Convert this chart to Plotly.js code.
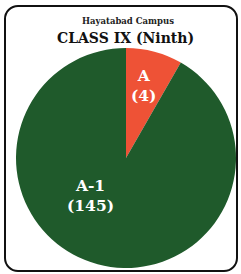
<!DOCTYPE html>
<html>
<head>
<meta charset="utf-8">
<script src="https://cdn.plot.ly/plotly-3.0.1.min.js"></script>
<style>
  html, body { margin: 0; padding: 0; background: #fff; }
  #wrap { position: relative; width: 241px; height: 274px; }
  #chart { position: absolute; left: 0; top: 0; width: 241px; height: 274px; }
  #frame { position: absolute; left: 4px; top: 5px; width: 230px; height: 263px;
           border: 2px solid #111; border-radius: 14px; pointer-events: none; }
</style>
</head>
<body>
<div id="wrap"><div id="chart"></div><div id="frame"></div></div>
<script>
// Data
const campus = "Hayatabad Campus";
const chartTitle = "CLASS IX (Ninth)";
const grades = ["A", "A-1"];
const counts = [4, 145];
// slice share of the circle as drawn in the reference (percent)
const sliceShare = [8.3, 91.7];
const colors = ["#EE5236", "#1F5A2B"];

const labelFont = { family: "DejaVu Serif", size: 15.5, color: "#ffffff" };
const labelPos = [ { x: 143/241, y: 1 - 86/274 }, { x: 90/241, y: 1 - 195/274 } ];

const trace = {
  type: "pie",
  labels: grades,
  values: sliceShare,
  marker: { colors: colors, line: { width: 0 } },
  sort: false,
  direction: "clockwise",
  rotation: 0,
  textinfo: "none",
  hoverinfo: "none",
  showlegend: false,
  domain: { x: [16/241, 236/241], y: [6/274, 226/274] }
};

const annotations = grades.map((g, i) => ({
  text: "<b>" + g + "<br>(" + counts[i] + ")</b>",
  x: labelPos[i].x, y: labelPos[i].y, xref: "paper", yref: "paper",
  xanchor: "center", yanchor: "middle",
  showarrow: false, font: labelFont, align: "center"
}));
annotations.push({
  text: "<b>" + campus + "</b>", x: 127.5/241, y: 1 - 21/274, xref: "paper", yref: "paper",
  xanchor: "center", yanchor: "middle",
  showarrow: false, font: { family: "DejaVu Serif", size: 8.5, color: "#222" }
});
annotations.push({
  text: "<b>" + chartTitle + "</b>", x: 125.5/241, y: 1 - 38/274, xref: "paper", yref: "paper",
  xanchor: "center", yanchor: "middle",
  showarrow: false, font: { family: "DejaVu Serif", size: 14, color: "#111" }
});

Plotly.newPlot("chart", [trace], {
  width: 241, height: 274,
  margin: { l: 0, r: 0, t: 0, b: 0 },
  paper_bgcolor: "#ffffff",
  annotations: annotations
}, { staticPlot: true, displayModeBar: false });
</script>
</body>
</html>
